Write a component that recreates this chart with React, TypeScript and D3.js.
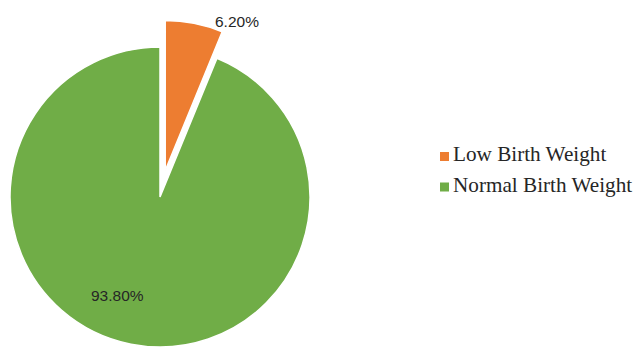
import React from "react";
import * as d3 from "d3";

const categories = ["Low Birth Weight", "Normal Birth Weight"];
const values = [6.2, 93.8];
const labels = ["6.20%", "93.80%"];
const colors = ["#ED7D31", "#70AD47"];

const W = 636;
const H = 349;

export default function App() {
  const cx = 160;
  const cy = 197;
  const r = 150;
  const explode = 27;

  const pie = d3.pie<number>().sort(null).value((d) => d);
  const arcs = pie(values);
  const arcGen = d3.arc<d3.PieArcDatum<number>>().innerRadius(0).outerRadius(r);

  return (
    <svg
      width={W}
      height={H}
      style={{ position: "absolute", left: 0, top: 0, background: "#fff" }}
    >
      {arcs.map((a, i) => {
        const mid = (a.startAngle + a.endAngle) / 2;
        const off = i === 0 ? explode : 0;
        const dx = Math.sin(mid) * off;
        const dy = -Math.cos(mid) * off;
        return (
          <path
            key={i}
            d={arcGen(a) || ""}
            transform={`translate(${cx + dx},${cy + dy})`}
            fill={colors[i]}
            stroke="#fff"
            strokeWidth={1.5}
          />
        );
      })}
      <text
        x={215}
        y={27}
        fontFamily="Liberation Sans, Arial, sans-serif"
        fontSize={15.5}
        fill="#262626"
      >
        {labels[0]}
      </text>
      <text
        x={91}
        y={301}
        fontFamily="Liberation Sans, Arial, sans-serif"
        fontSize={15.5}
        fill="#262626"
      >
        {labels[1]}
      </text>
      {categories.map((c, i) => (
        <g key={c} transform={`translate(440,${152 + i * 30.5})`}>
          <rect x={0} y={0} width={9} height={9} fill={colors[i]} />
          <text
            x={13}
            y={9}
            fontFamily="Liberation Serif, Times New Roman, serif"
            fontSize={21.2}
            fill="#262626"
          >
            {c}
          </text>
        </g>
      ))}
    </svg>
  );
}
